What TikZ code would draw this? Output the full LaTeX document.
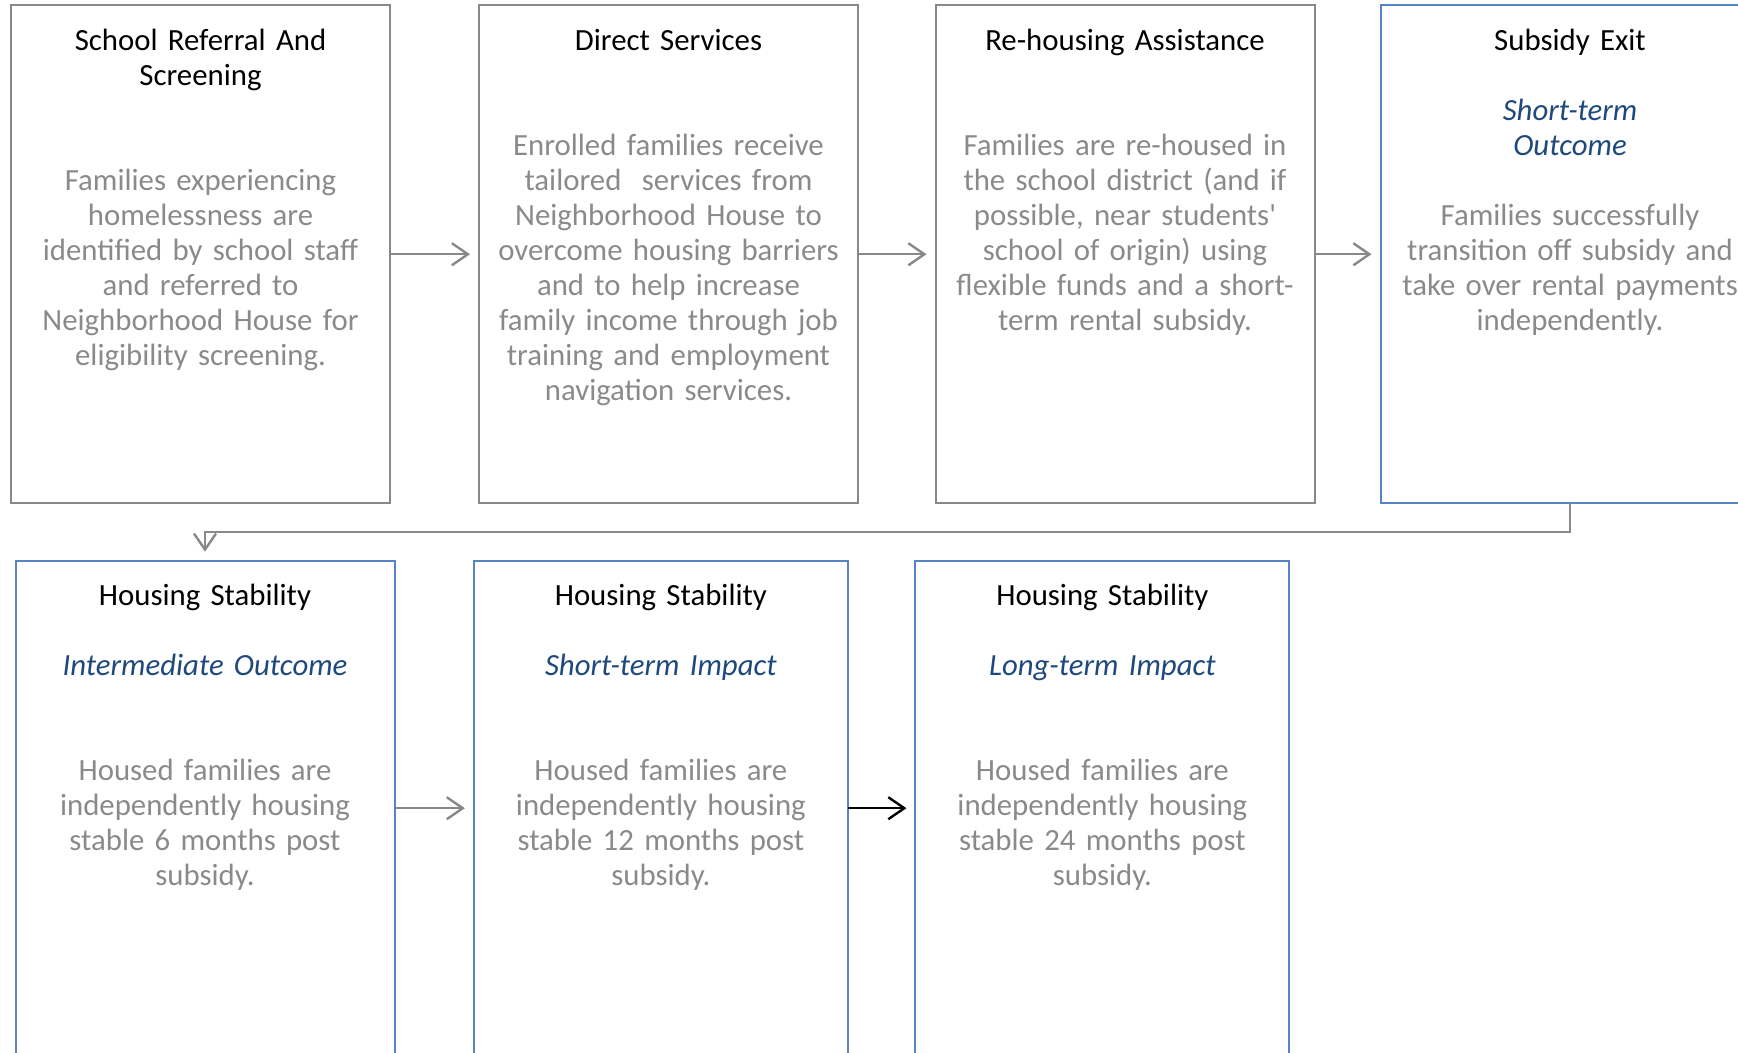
\documentclass[tikz,border=0pt]{standalone}
\usepackage{fontspec}
\setmainfont{Carlito}
\usepackage{tikz}
\usetikzlibrary{positioning, arrows.meta}

\definecolor{linegray}{HTML}{888888}
\definecolor{outblue}{HTML}{5585C5}
\definecolor{subblue}{HTML}{1F497D}
\definecolor{textgray}{HTML}{8A8A8A}

\begin{document}
\begin{tikzpicture}[
    >={Straight Barb[length=8pt, width=11pt]},
    stage/.style={draw=linegray, line width=1pt, minimum width=189.5pt, minimum height=248.75pt, inner sep=0pt, outer sep=0pt},
    outcome/.style={stage, draw=outblue},
    lower/.style={outcome, minimum height=247.5pt},
    head/.style={anchor=base, align=center, text width=186pt, font=\fontsize{15.4}{17.5}\selectfont},
    sub/.style={head, text=subblue, font=\fontsize{15.4}{17.5}\selectfont\itshape},
    body/.style={head, text=textgray},
    flow/.style={->, draw=linegray, line width=1.2pt, shorten >=4.5pt}
]
    \useasboundingbox (0,0) rectangle (869pt,-526.5pt);
    \clip (0,0) rectangle (869pt,-526.5pt);

    % Boxes of the top row (program steps)
    \node (b1) [stage, anchor=north west] at (5.5pt,-2.75pt) {};
    \node (b2) [stage, right=44.5pt of b1] {};
    \node (b3) [stage, right=38.75pt of b2] {};
    \node (b4) [outcome, right=33pt of b3] {};

    % Boxes of the bottom row (housing stability)
    \node (b5) [lower, anchor=north west] at (7.75pt,-280.35pt) {};
    \node (b6) [lower, minimum width=187pt, right=39.7pt of b5] {};
    \node (b7) [lower, minimum width=187pt, right=33.75pt of b6] {};

    % Titles
    \node (t1) at ([yshift=-22.5pt]b1.north) [head] {School Referral And\\Screening};
    \node (t2) at ([yshift=-22.5pt]b2.north) [head] {Direct Services};
    \node (t3) at ([yshift=-22.5pt]b3.north) [head] {Re-housing Assistance};
    \node (t4) at ([yshift=-22.5pt]b4.north) [head] {Subsidy Exit};
    \node (t5) at ([yshift=-22.5pt]b5.north) [head] {Housing Stability};
    \node (t6) at ([yshift=-22.5pt]b6.north) [head] {Housing Stability};
    \node (t7) at ([yshift=-22.5pt]b7.north) [head] {Housing Stability};

    % Outcome labels
    \node (s4) at ([yshift=-57.5pt]b4.north) [sub] {Short-term\\Outcome};
    \node (s5) at ([yshift=-57.5pt]b5.north) [sub] {Intermediate Outcome};
    \node (s6) at ([yshift=-57.5pt]b6.north) [sub] {Short-term Impact};
    \node (s7) at ([yshift=-57.5pt]b7.north) [sub] {Long-term Impact};

    % Descriptions
    \node (d1) at ([yshift=-92.5pt]b1.north) [body] {Families experiencing\\homelessness are\\identified by school staff\\and referred to\\Neighborhood House for\\eligibility screening.};
    \node (d2) at ([yshift=-75pt]b2.north) [body] {Enrolled families receive\\tailored\ \ services from\\Neighborhood House to\\overcome housing barriers\\and to help increase\\family income through job\\training and employment\\navigation services.};
    \node (d3) at ([yshift=-75pt]b3.north) [body] {Families are re-housed in\\the school district (and if\\possible, near students\textquotesingle\\school of origin) using\\flexible funds and a short-\\term rental subsidy.};
    \node (d4) at ([yshift=-110pt]b4.north) [body] {Families successfully\\transition off subsidy and\\take over rental payments\\independently.};
    \node (d5) at ([yshift=-110pt]b5.north) [body] {Housed families are\\independently housing\\stable 6 months post\\subsidy.};
    \node (d6) at ([yshift=-110pt]b6.north) [body] {Housed families are\\independently housing\\stable 12 months post\\subsidy.};
    \node (d7) at ([yshift=-110pt]b7.north) [body] {Housed families are\\independently housing\\stable 24 months post\\subsidy.};

    % Arrows between the steps
    \draw[flow] (b1) -- (b2);
    \draw[flow] (b2) -- (b3);
    \draw[flow] (b3) -- (b4);
    \draw[flow] (b4.south) -- ++(0,-14.5pt) -| (b5.north);
    \draw[flow] (b5) -- (b6);
    \draw[flow, draw=black] (b6) -- (b7);

\end{tikzpicture}
\end{document}
